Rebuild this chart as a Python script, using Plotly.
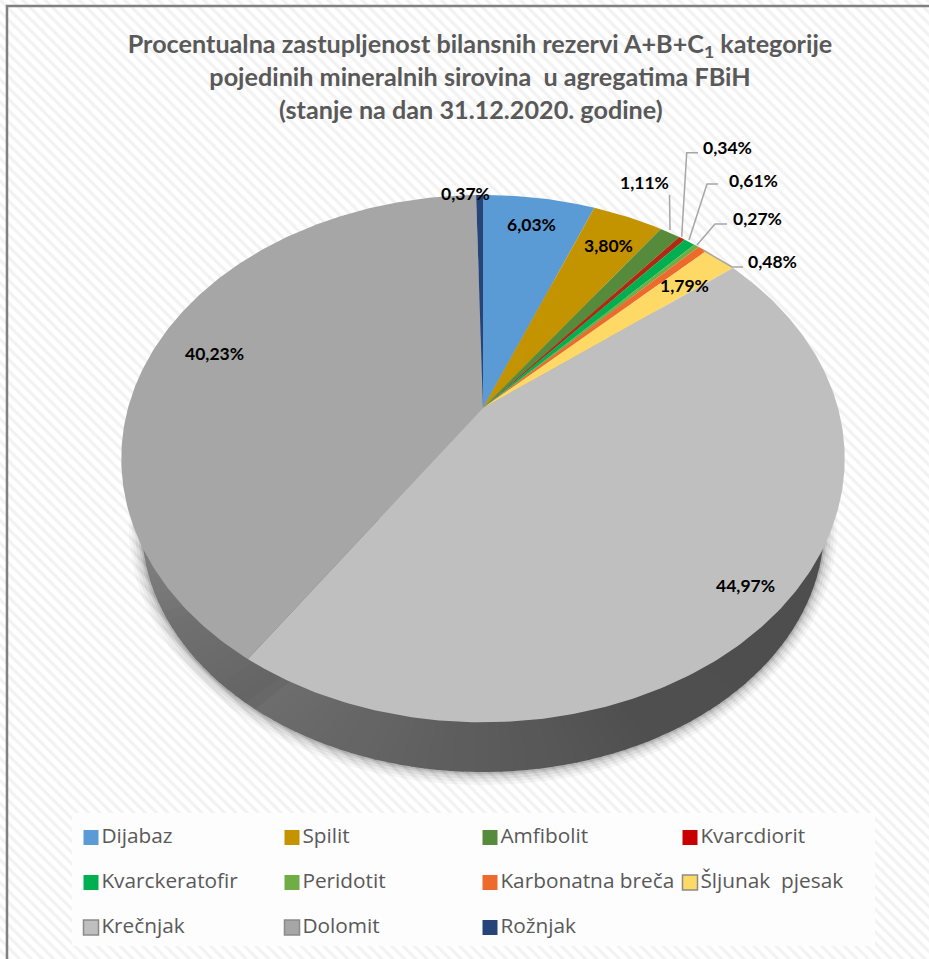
import numpy as np
import plotly.graph_objects as go

# ---- data ----
categories = ["Dijabaz", "Spilit", "Amfibolit", "Kvarcdiorit", "Kvarckeratofir", "Peridotit",
              "Karbonatna breča", "Šljunak  pjesak", "Krečnjak", "Dolomit", "Rožnjak"]
values = [6.03, 3.80, 1.11, 0.34, 0.61, 0.27, 0.48, 1.79, 44.97, 40.23, 0.37]
colors = ["#5B9BD5", "#C49300", "#558B3A", "#B02A12", "#00B050", "#70AD47",
          "#EE6A2C", "#FFD966", "#BFBFBF", "#A6A6A6", "#264478"]
legend_colors = ["#5B9BD5", "#C49300", "#558B3A", "#C80000", "#00B050", "#70AD47",
                 "#EE6A2C", "#FFD966", "#BFBFBF", "#A6A6A6", "#264478"]
label_texts = ["6,03%", "3,80%", "1,11%", "0,34%", "0,61%", "0,27%", "0,48%", "1,79%", "44,97%", "40,23%", "0,37%"]

title_text = ("Procentualna zastupljenost bilansnih rezervi A+B+C<sub>1</sub> kategorije<br>"
              "pojedinih mineralnih sirovina  u agregatima FBiH<br>"
              "(stanje na dan 31.12.2020. godine)&nbsp;&nbsp;&nbsp;")

# ---- geometry of the tilted, perspective disc (pixels) ----
CX, CY = 483, 408
A, B, K = 355, 254, 0.192
# lower rim of the disc
BX, BY, BRX, BRY = 483, 527, 341, 245


def rim(theta):
    u, v = np.sin(theta), np.cos(theta)
    d = 1 + K * v
    return CX + A * u / d, CY - B * v / d


fig = go.Figure()


def poly(xs, ys, fill, name=None, **kw):
    fig.add_trace(go.Scatter(x=xs, y=ys, mode="lines", fill="toself", fillcolor=fill,
                             line=dict(width=0), hoverinfo="skip" if name is None else "name",
                             name=name or "wall", showlegend=False, **kw))


# hatched page background
fig.add_trace(go.Scatter(x=[0, 929, 929, 0, 0], y=[0, 0, 959, 959, 0], mode="lines", fill="toself",
                         fillcolor="white", line=dict(width=0), hoverinfo="skip", showlegend=False,
                         fillpattern=dict(shape="\\", size=8, solidity=0.4, fgcolor="#E6E6E6", bgcolor="#FFFFFF")))
# legend panel
poly([72, 875, 875, 72, 72], [813, 813, 946, 946, 813], "rgba(253,253,253,0.96)")

# soft shadow round the lower rim
phi = np.linspace(0, 2 * np.pi, 200)
for d, alpha in [(13, 0.035), (10, 0.045), (7, 0.06), (4, 0.08), (2, 0.10)]:
    poly(BX + (BRX + d) * np.cos(phi), BY + (BRY + d) * np.sin(phi), f"rgba(0,0,0,{alpha})")

# side wall: fan of the lower rim, shaded by horizontal position, top face covers the rest
edges = np.linspace(-0.1, np.pi + 0.1, 90)
for a0, a1 in zip(edges[:-1], edges[1:]):
    s = np.linspace(a0, a1 + 0.006, 4)
    wx = BX + BRX * np.cos(s)
    wy = BY + BRY * np.sin(s)
    xm = wx.mean()
    shade = int(np.interp(xm, [140, 170, 248, 252, 320, 420, 520, 650, 830],
                          [128, 112, 100, 110, 104, 96, 90, 80, 78]))
    poly(np.r_[BX, wx, BX], np.r_[BY, wy, BY], f"rgb({shade},{shade},{shade})")

# top-face wedges, angles derived from the values
total = sum(values)
cum = np.cumsum([0] + values) / total * 2 * np.pi
for name, c, a0, a1 in zip(categories, colors, cum[:-1], cum[1:]):
    s = np.linspace(a0, a1, max(3, int((a1 - a0) * 80)))
    x, y = rim(s)
    poly(np.r_[CX, x, CX], np.r_[CY, y, CY], c, name=name)

# legend: swatch and name for every category
swatch_x = [91, 292, 490, 690, 91, 292, 490, 690, 91, 292, 490]
swatch_y = [837.5, 837.5, 837.5, 837.5, 882.5, 882.5, 882.5, 882.5, 927.5, 927.5, 927.5]
for i, (name, c) in enumerate(zip(categories, legend_colors)):
    fig.add_trace(go.Scatter(x=[swatch_x[i]], y=[swatch_y[i]], mode="markers+text", name=name,
                             text=[name], textposition="middle right",
                             textfont=dict(family="Open Sans", size=20.8, color="#595959"),
                             marker=dict(symbol="square", size=15, color=c,
                                         line=dict(width=1.5, color="#8a8a8a") if 7 <= i < 10 else dict(width=0)),
                             hoverinfo="name", showlegend=False))

# leader lines
leaders = [([669.5, 670], [195, 230]),
           ([698, 686.7, 681.7], [152.7, 152.7, 236.7]),
           ([718, 707, 689], [184, 184, 240]),
           ([727, 715, 697], [224, 224, 245]),
           ([743, 732, 703], [267, 267, 250])]
for lx, ly in leaders:
    fig.add_trace(go.Scatter(x=lx, y=ly, mode="lines", line=dict(color="#A6A6A6", width=1.5),
                             hoverinfo="skip", showlegend=False))

label_pos = [(531, 224), (608, 245), (644, 182), (727, 147), (753, 180), (757, 218),
             (772, 261), (684, 285), (745, 585), (214, 353), (465, 193)]
annotations = [dict(x=px, y=py, text=f"<b>{txt}</b>", showarrow=False, xref="x", yref="y",
                    font=dict(family="Lato", size=17.5, color="#000000"))
               for txt, (px, py) in zip(label_texts, label_pos)]

fig.update_layout(
    width=929, height=959, margin=dict(l=0, r=0, t=0, b=0),
    paper_bgcolor="white", plot_bgcolor="white", showlegend=False,
    xaxis=dict(range=[0, 929], visible=False, fixedrange=True),
    yaxis=dict(range=[959, 0], visible=False, fixedrange=True),
    title=dict(text=f"<b>{title_text}</b>", x=480 / 929, xanchor="center", y=1 - 53 / 959, yanchor="top",
               font=dict(family="Lato", size=25.2, color="#595959")),
    annotations=annotations,
    shapes=[dict(type="rect", xref="x", yref="y", x0=7, y0=6, x1=960, y1=990,
                 line=dict(color="#808080", width=2.5), layer="above")],
)
fig.write_html("out.html", config=dict(displayModeBar=False),
               post_script="document.body.style.margin='0';document.documentElement.style.overflow='hidden';")
